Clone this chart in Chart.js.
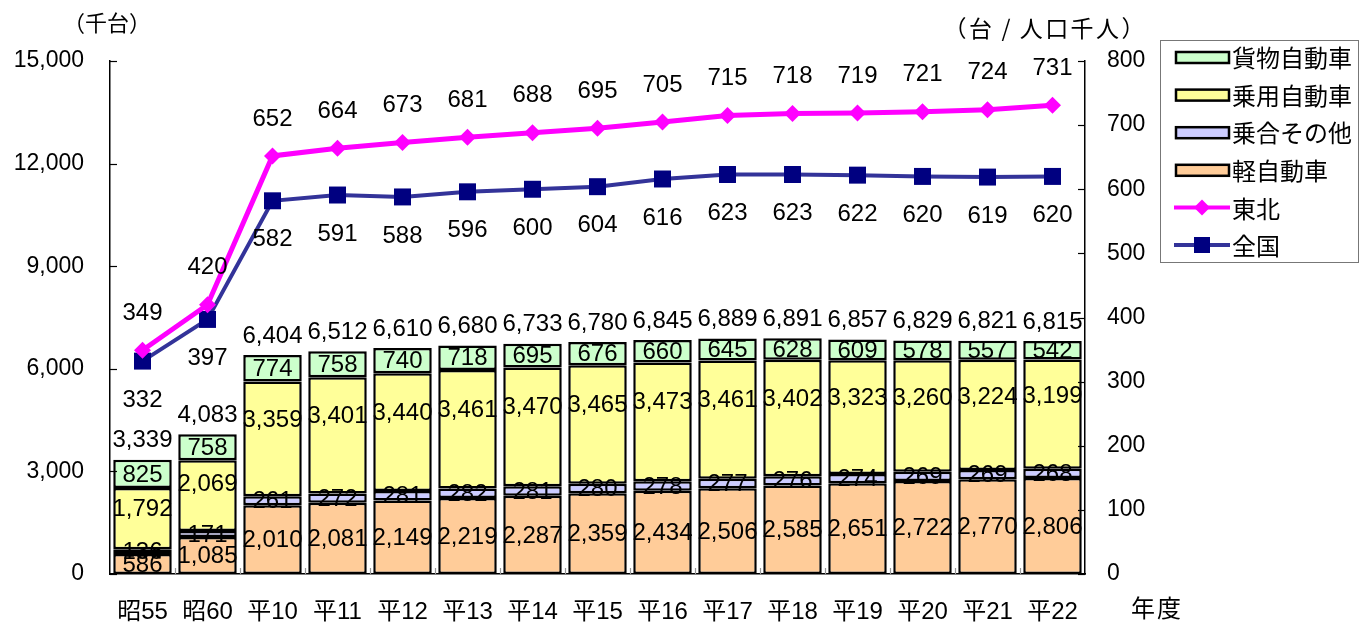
<!DOCTYPE html>
<html>
<head>
<meta charset="utf-8">
<script src="https://cdn.jsdelivr.net/npm/chart.js@4"></script>
<style>
  html, body { margin: 0; padding: 0; background: #fff; }
  #wrap { width: 1360px; height: 624px; position: relative; }
</style>
</head>
<body>
<div id="wrap"><canvas id="chart" width="1360" height="624"></canvas></div>
<script>
const categories = ['昭55', '昭60', '平10', '平11', '平12', '平13', '平14', '平15', '平16', '平17', '平18', '平19', '平20', '平21', '平22'];
const keiJidosha = [586, 1085, 2010, 2081, 2149, 2219, 2287, 2359, 2434, 2506, 2585, 2651, 2722, 2770, 2806];
const noriaiSonota = [136, 171, 261, 272, 281, 282, 281, 280, 278, 277, 276, 274, 269, 269, 268];
const joyoJidosha = [1792, 2069, 3359, 3401, 3440, 3461, 3470, 3465, 3473, 3461, 3402, 3323, 3260, 3224, 3199];
const kamotsuJidosha = [825, 758, 774, 758, 740, 718, 695, 676, 660, 645, 628, 609, 578, 557, 542];
const totals = [3339, 4083, 6404, 6512, 6610, 6680, 6733, 6780, 6845, 6889, 6891, 6857, 6829, 6821, 6815];
const tohoku = [349, 420, 652, 664, 673, 681, 688, 695, 705, 715, 718, 719, 721, 724, 731];
const zenkoku = [332, 397, 582, 591, 588, 596, 600, 604, 616, 623, 623, 622, 620, 619, 620];

const leftTicks = { min: 0, max: 15000, step: 3000 };
const rightTicks = { min: 0, max: 800, step: 100 };

const numFont = '24px "Liberation Sans", "Noto Sans CJK JP", sans-serif';
const lineLabelFont = '24px "Liberation Sans", sans-serif';
const jpFamily = '"Noto Sans CJK JP", sans-serif';

const fmt = v => v.toLocaleString('en-US');

function barSet(label, data, color, labelPos) {
  return {
    type: 'bar', label, data, yAxisID: 'y',
    backgroundColor: color, borderColor: '#000', borderWidth: 2.5,
    borderSkipped: false, order: 2,
    barPercentage: 0.9, categoryPercentage: 1.0,
    labelPos // 0 = top of segment, 1 = bottom
  };
}

const datasets = [
  { type: 'line', label: '東北', data: tohoku, yAxisID: 'y2', order: 0,
    borderColor: '#FF00FF', backgroundColor: '#FF00FF', borderWidth: 5,
    pointStyle: 'rectRot', pointRadius: 8.5, pointBorderWidth: 0, tension: 0 },
  { type: 'line', label: '全国', data: zenkoku, yAxisID: 'y2', order: 1,
    borderColor: '#333399', backgroundColor: '#000080', borderWidth: 4,
    pointStyle: 'rect', pointRadius: 12, pointBorderWidth: 0, tension: 0 },
  barSet('軽自動車', keiJidosha, '#FFCC99', 0.5),
  barSet('乗合その他', noriaiSonota, '#CCCCFF', 0.5),
  barSet('乗用自動車', joyoJidosha, '#FFFF99', 0.33),
  barSet('貨物自動車', kamotsuJidosha, '#CCFFCC', 0.5)
];

function spacedText(ctx, text, cx, cy, advance) {
  const chars = Array.from(text);
  let x = cx - advance * chars.length / 2 + advance / 2;
  ctx.textAlign = 'center';
  chars.forEach(c => { ctx.fillText(c, x, cy); x += advance; });
}

// labels, tick marks, axis titles and boxed legend
const decorPlugin = {
  id: 'decor',
  afterDatasetsDraw(chart) {
    const ctx = chart.ctx;
    const area = chart.chartArea;
    const y = chart.scales.y, y2 = chart.scales.y2, x = chart.scales.x;
    ctx.save();

    // tick marks (inside)
    ctx.strokeStyle = '#000';
    ctx.lineWidth = 1.2;
    for (let v = leftTicks.min; v <= leftTicks.max; v += leftTicks.step) {
      const py = Math.round(y.getPixelForValue(v)) + 0.5;
      ctx.beginPath(); ctx.moveTo(area.left, py); ctx.lineTo(area.left + 7, py); ctx.stroke();
    }
    for (let v = rightTicks.min; v <= rightTicks.max; v += rightTicks.step) {
      const py = Math.round(y2.getPixelForValue(v)) + 0.5;
      ctx.beginPath(); ctx.moveTo(area.right, py); ctx.lineTo(area.right - 7, py); ctx.stroke();
    }
    ctx.strokeStyle = '#999';
    const band = (area.right - area.left) / categories.length;
    for (let i = 1; i < categories.length; i++) {
      const px = Math.round(area.left + band * i) + 0.5;
      ctx.beginPath(); ctx.moveTo(px, area.bottom); ctx.lineTo(px, area.bottom - 6); ctx.stroke();
    }

    // segment labels
    ctx.fillStyle = '#000';
    ctx.font = numFont;
    ctx.textAlign = 'center';
    ctx.textBaseline = 'middle';
    chart.data.datasets.forEach((ds, di) => {
      if (ds.type !== 'bar') return;
      chart.getDatasetMeta(di).data.forEach((bar, i) => {
        const py = bar.y + (bar.base - bar.y) * ds.labelPos;
        ctx.fillText(fmt(ds.data[i]), bar.x, py + 1);
      });
    });
    // totals
    totals.forEach((t, i) => {
      const px = x.getPixelForValue(i);
      ctx.fillText(fmt(t), px, y.getPixelForValue(t) - 19);
    });
    // line labels
    ctx.font = lineLabelFont;
    tohoku.forEach((v, i) => ctx.fillText(String(v), x.getPixelForValue(i), y2.getPixelForValue(v) - 37));
    zenkoku.forEach((v, i) => ctx.fillText(String(v), x.getPixelForValue(i), y2.getPixelForValue(v) + 39));

    // axis titles
    ctx.font = '22px ' + jpFamily;
    spacedText(ctx, '（千台）', 107, 23, 22);
    ctx.font = '23px ' + jpFamily;
    spacedText(ctx, '（台/人口千人）', 1044, 28, 25.4);
    ctx.font = '24px ' + jpFamily;
    spacedText(ctx, '年度', 1156, 608, 26);

    // legend box
    const lx = 1160, ly = 40, lw = 199, lh = 222;
    ctx.strokeStyle = '#777';
    ctx.lineWidth = 1;
    ctx.strokeRect(lx + 0.5, ly + 0.5, lw - 1, lh);
    const order = ['貨物自動車', '乗用自動車', '乗合その他', '軽自動車', '東北', '全国'];
    order.forEach((name, k) => {
      const ds = chart.data.datasets.find(d => d.label === name);
      const cy = ly + 17 + k * 37.6;
      if (ds.type === 'bar') {
        ctx.fillStyle = ds.backgroundColor;
        ctx.fillRect(lx + 16, cy - 5, 53, 11);
        ctx.strokeStyle = '#000';
        ctx.lineWidth = 2.5;
        ctx.strokeRect(lx + 16, cy - 5, 53, 11);
      } else {
        ctx.strokeStyle = ds.borderColor;
        ctx.lineWidth = 4;
        ctx.beginPath(); ctx.moveTo(lx + 14, cy); ctx.lineTo(lx + 70, cy); ctx.stroke();
        ctx.fillStyle = ds.backgroundColor;
        const mx = lx + 42;
        if (ds.pointStyle === 'rectRot') {
          ctx.beginPath();
          ctx.moveTo(mx, cy - 8); ctx.lineTo(mx + 8, cy); ctx.lineTo(mx, cy + 8); ctx.lineTo(mx - 8, cy);
          ctx.closePath(); ctx.fill();
        } else {
          ctx.fillRect(mx - 8, cy - 8, 16, 16);
        }
      }
      ctx.fillStyle = '#000';
      ctx.font = '24px ' + jpFamily;
      ctx.textAlign = 'left';
      ctx.fillText(name, lx + 72, cy + 1);
    });

    ctx.restore();
  }
};

new Chart(document.getElementById('chart'), {
  data: { labels: categories, datasets },
  options: {
    responsive: false,
    animation: false,
    layout: { padding: { top: 61, left: 0, right: 0, bottom: 0 } },
    plugins: { legend: { display: false }, tooltip: { enabled: false } },
    scales: {
      x: {
        stacked: true,
        grid: { display: false },
        border: { display: true, color: '#000', width: 1.5 },
        ticks: { color: '#000', font: { size: 24, family: '"Liberation Sans", "Noto Sans CJK JP", sans-serif' }, padding: 16, maxRotation: 0, autoSkip: false },
        afterFit: s => { s.height = 50; }
      },
      y: {
        position: 'left', stacked: true,
        min: leftTicks.min, max: leftTicks.max,
        grid: { display: false },
        border: { display: true, color: '#000', width: 1.5 },
        ticks: { stepSize: leftTicks.step, color: '#000', padding: 18, callback: v => fmt(v),
          font: { size: 23, family: '"Liberation Sans", sans-serif' } },
        afterFit: s => { s.width = 110; }
      },
      y2: {
        position: 'right',
        min: rightTicks.min, max: rightTicks.max,
        grid: { display: false },
        border: { display: true, color: '#000', width: 1.5 },
        ticks: { stepSize: rightTicks.step, color: '#000', padding: 14,
          font: { size: 23, family: '"Liberation Sans", sans-serif' } },
        afterFit: s => { s.width = 275; }
      }
    }
  },
  plugins: [decorPlugin]
});
</script>
</body>
</html>
